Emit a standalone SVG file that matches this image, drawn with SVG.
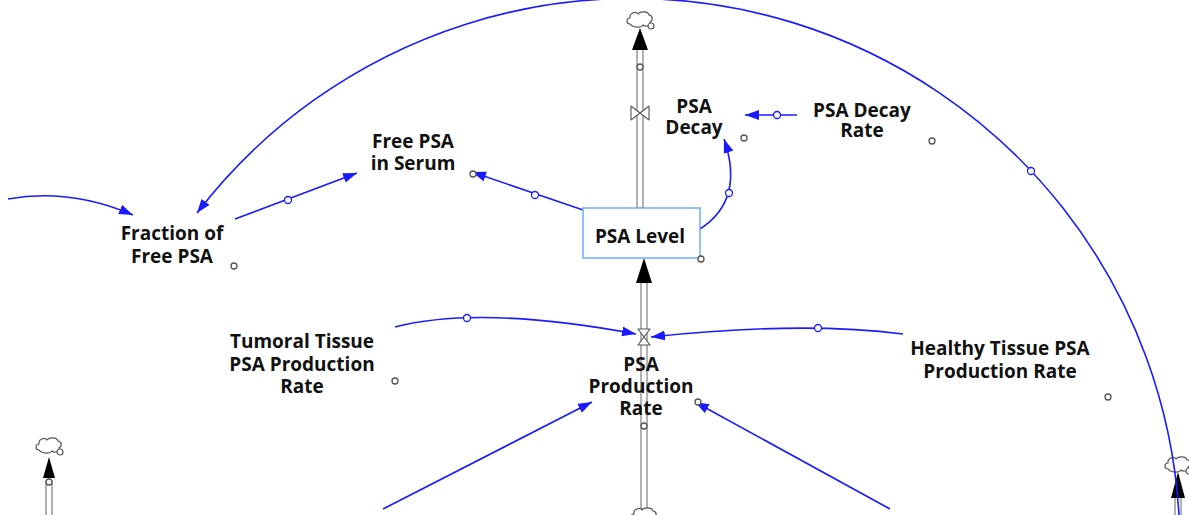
<svg xmlns="http://www.w3.org/2000/svg" width="1189" height="515" viewBox="0 0 1189 515">
  <style>
    .lbl { font-family: "Open Sans", "Noto Sans", "Liberation Sans", sans-serif; font-weight: bold; font-size: 19px; fill: #111; text-anchor: middle; }
    .link { fill: none; stroke: #1a1aff; stroke-width: 1.6; }
    .ring { fill: #fff; stroke: #1a1aff; stroke-width: 1.3; }
    .handle { fill: #fff; stroke: #555; stroke-width: 1.3; }
    .pipe { fill: #fff; stroke: #666; stroke-width: 1; }
    .valve { fill: #fff; stroke: #555; stroke-width: 1.1; stroke-linejoin: round; }
    .flowhead { fill: #000; }
    .stock { fill: #fff; stroke: #6aaeff; stroke-width: 1.5; }
  </style>
  <defs>
    <marker id="arrow" markerUnits="userSpaceOnUse" markerWidth="15" markerHeight="11" refX="14" refY="5" orient="auto">
      <path d="M0,0 L14,5 L0,10 Z" fill="#1a1aff"/>
    </marker>
    <g id="cloud">
      <path d="M -10 4 C -14 4 -14 -2 -10 -2 C -11 -7 -4 -9 -2 -6 C 0 -9 8 -9 9 -5 C 13 -5 13 1 10 2 C 11 6 5 7 3 5 C 1 8 -7 8 -10 4 Z" fill="#fff" stroke="#555" stroke-width="1.2"/>
      <circle cx="11" cy="6" r="3" fill="#fff" stroke="#555" stroke-width="1.2"/>
    </g>
  </defs>

  <rect width="1189" height="515" fill="#fff"/>

  <!-- material flows: pipes, valves and clouds -->
  <g id="flows">
    <!-- PSA Decay outflow (stock to top cloud) -->
    <rect class="pipe" x="637" y="48" width="6" height="160"/>
    <circle class="handle" cx="640" cy="67" r="3"/>
    <polygon class="flowhead" points="640,28 632,50 648,50"/>
    <use href="#cloud" x="640" y="20"/>
    <!-- PSA Production Rate inflow (bottom cloud to stock) -->
    <rect class="pipe" x="641" y="281" width="6" height="228"/>
    <circle class="handle" cx="644" cy="426" r="3"/>
    <polygon class="flowhead" points="644,258 636,283 652,283"/>
    <use href="#cloud" x="644" y="516"/>
    <!-- partial flows at the lower edges -->
    <rect class="pipe" x="46" y="482" width="6" height="40"/>
    <circle class="handle" cx="49" cy="482" r="3"/>
    <polygon class="flowhead" points="49,457 43,478 55,478"/>
    <use href="#cloud" x="49" y="446"/>
    <rect class="pipe" x="1175" y="496" width="6" height="30"/>
    <polygon class="flowhead" points="1178,472 1171,498 1185,498"/>
    <use href="#cloud" x="1178" y="465"/>
  </g>

  <!-- information links -->
  <g id="connectors">
    <path class="link" d="M 1179 515 A 548 548 0 0 0 197 213" marker-end="url(#arrow)"/>
    <circle class="ring" cx="1031" cy="171" r="3.5"/>
    <path class="link" d="M 8 199 Q 70 188 133 215" marker-end="url(#arrow)"/>
    <path class="link" d="M 235 219 L 357 173" marker-end="url(#arrow)"/>
    <circle class="ring" cx="288" cy="200" r="3.5"/>
    <path class="link" d="M 583 210 L 472 172" marker-end="url(#arrow)"/>
    <circle class="ring" cx="535" cy="195" r="3.5"/>
    <path class="link" d="M 700 229 Q 745 200 724 139" marker-end="url(#arrow)"/>
    <circle class="ring" cx="729" cy="193" r="3.5"/>
    <path class="link" d="M 797 115 L 745 115" marker-end="url(#arrow)"/>
    <circle class="ring" cx="777" cy="115" r="3.5"/>
    <path class="link" d="M 395 327 Q 480 305 636 334" marker-end="url(#arrow)"/>
    <circle class="ring" cx="467" cy="318" r="3.5"/>
    <path class="link" d="M 903 334 Q 800 321 651 337" marker-end="url(#arrow)"/>
    <circle class="ring" cx="818" cy="328" r="3.5"/>
    <path class="link" d="M 383 509 L 592 402" marker-end="url(#arrow)"/>
    <path class="link" d="M 890 509 L 695 402" marker-end="url(#arrow)"/>
  </g>

  <!-- variables -->
  <g id="psa-level">
    <rect class="stock" x="583" y="208" width="117" height="50"/>
    <text class="lbl" x="640" y="243">PSA Level</text>
    <circle class="handle" cx="701" cy="259" r="3"/>
  </g>
  <g id="psa-decay">
    <polygon class="valve" points="631,106 640,113 631,120"/>
    <polygon class="valve" points="649,106 640,113 649,120"/>
    <text class="lbl" x="694" y="113">PSA<tspan x="694" dy="21">Decay</tspan></text>
    <circle class="handle" cx="744" cy="138" r="3"/>
  </g>
  <g id="psa-production-rate">
    <polygon class="valve" points="638,329 650,329 644,337"/>
    <polygon class="valve" points="638,345 650,345 644,337"/>
    <text class="lbl" x="641" y="371">PSA<tspan x="641" dy="22">Production</tspan><tspan x="641" dy="22">Rate</tspan></text>
    <circle class="handle" cx="698" cy="402" r="3"/>
  </g>
  <g id="psa-decay-rate">
    <text class="lbl" x="862" y="117">PSA Decay<tspan x="862" dy="20">Rate</tspan></text>
    <circle class="handle" cx="932" cy="141" r="3"/>
  </g>
  <g id="free-psa-in-serum">
    <text class="lbl" x="413" y="148">Free PSA<tspan x="413" dy="22">in Serum</tspan></text>
    <circle class="handle" cx="473" cy="174" r="3"/>
  </g>
  <g id="fraction-of-free-psa">
    <text class="lbl" x="172" y="240">Fraction of<tspan x="172" dy="23">Free PSA</tspan></text>
    <circle class="handle" cx="234" cy="266" r="3"/>
  </g>
  <g id="tumoral-tissue-psa-production-rate">
    <text class="lbl" x="302" y="348">Tumoral Tissue<tspan x="302" dy="23">PSA Production</tspan><tspan x="302" dy="22">Rate</tspan></text>
    <circle class="handle" cx="395" cy="381" r="3"/>
  </g>
  <g id="healthy-tissue-psa-production-rate">
    <text class="lbl" x="1000" y="355">Healthy Tissue PSA<tspan x="1000" dy="23">Production Rate</tspan></text>
    <circle class="handle" cx="1108" cy="397" r="3"/>
  </g>
</svg>
